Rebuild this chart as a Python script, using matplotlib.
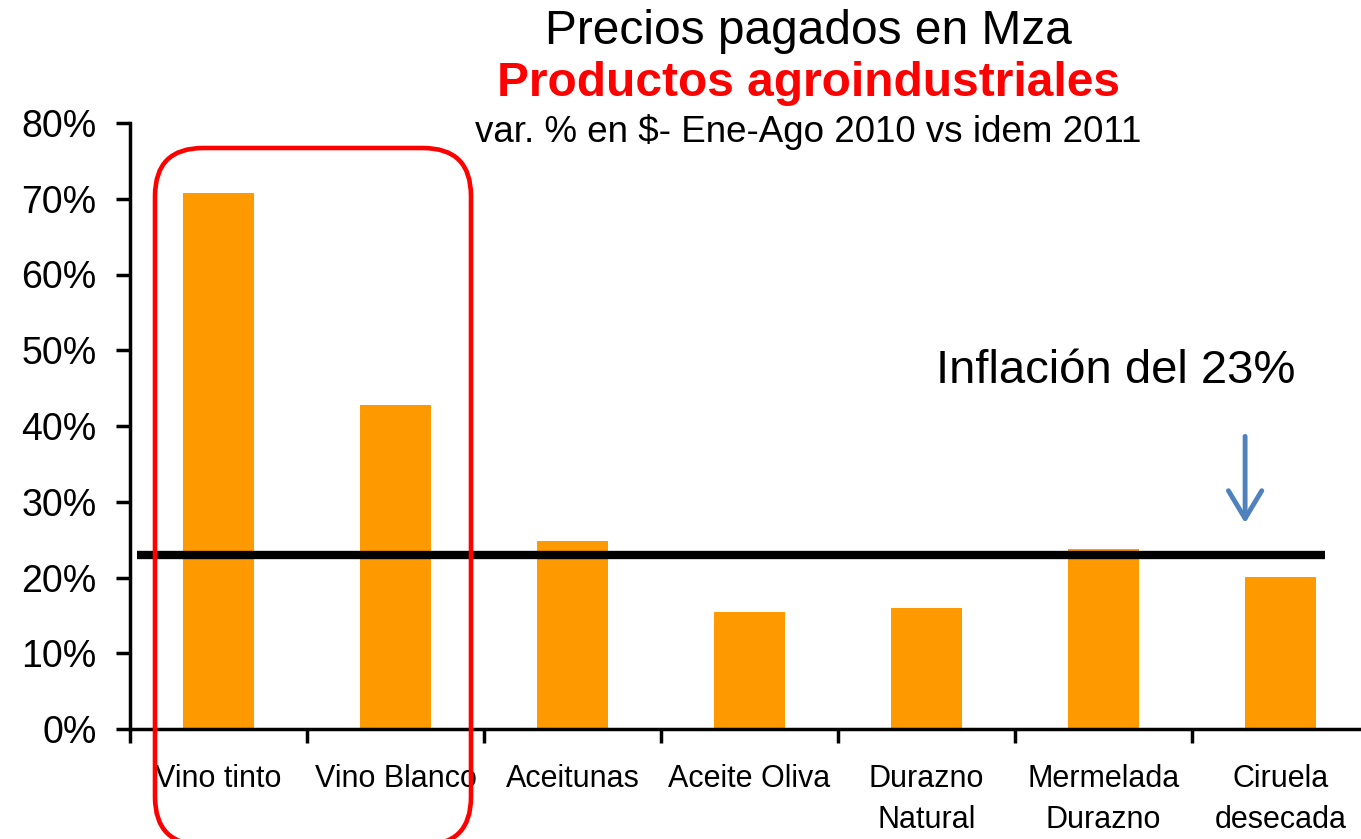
import numpy as np
import matplotlib
matplotlib.use('Agg')
import matplotlib.pyplot as plt
from matplotlib.patches import FancyBboxPatch

# data
categories = ['Vino tinto', 'Vino Blanco', 'Aceitunas', 'Aceite Oliva',
              'Durazno\nNatural', 'Mermelada\nDurazno', 'Ciruela\ndesecada']
values = [70.8, 42.8, 24.8, 15.4, 16.0, 23.8, 20.1]
inflacion = 23.0
y_ticks = [0, 10, 20, 30, 40, 50, 60, 70, 80]

plt.rcParams['font.family'] = ['Liberation Sans', 'DejaVu Sans']
narrow = ['Liberation Sans Narrow', 'Liberation Sans']

fig = plt.figure(figsize=(13.61, 8.39), dpi=100)
ax = fig.add_axes([130 / 1361, 110 / 839, 1239 / 1361, 606 / 839])

x = np.arange(len(categories))
ax.bar(x, values, width=0.4, color='#FF9900', zorder=2)

# inflation line
ax.plot([-0.46, 6.25], [inflacion, inflacion], color='black', lw=6,
        solid_capstyle='butt', zorder=3)

ax.set_xlim(-0.5, len(categories) - 0.5)
ax.set_ylim(0, 80)
ax.set_yticks(y_ticks)
ax.set_yticklabels([f'{v}%' for v in y_ticks], fontsize=27)
ax.set_xticks(x)
ax.set_xticklabels(categories, fontsize=22, family=narrow, linespacing=1.5)
ax.set_xticks(np.arange(len(categories) + 1) - 0.5, minor=True)
ax.tick_params(axis='x', which='major', length=0, pad=25)
ax.tick_params(axis='x', which='minor', length=10, width=2.5, direction='out')
ax.tick_params(axis='y', length=10, width=2.5, direction='out', pad=14)

for s in ['top', 'right']:
    ax.spines[s].set_visible(False)
for s in ['left', 'bottom']:
    ax.spines[s].set_linewidth(2.5)

# arrow pointing to the line
ax.annotate('', xy=(5.8, 26.8), xytext=(5.8, 39.0),
            arrowprops=dict(arrowstyle='->,head_length=0.5,head_width=0.3',
                            color='#4F81BD', lw=3.5, mutation_scale=40))

# titles
fig.text(0.594, 0.962, 'Precios pagados en Mza', ha='center', va='center',
         fontsize=34.5)
fig.text(0.594, 0.900, 'Productos agroindustriales', ha='center', va='center',
         fontsize=34.5, color='#FF0000', weight='bold')
fig.text(0.594, 0.843, 'var. % en $- Ene-Ago 2010 vs idem 2011', ha='center',
         va='center', fontsize=26.5, family=narrow)
fig.text(0.82, 0.558, 'Inflación del 23%', ha='center', va='center',
         fontsize=34)

# red rounded box around the wines (overlay in pixel units, y upward)
ov = fig.add_axes([0, 0, 1, 1], facecolor='none')
ov.set_xlim(0, 1361)
ov.set_ylim(0, 839)
ov.axis('off')
box = FancyBboxPatch((155, -6), 316, 697,
                     boxstyle='round,pad=0,rounding_size=48',
                     fill=False, edgecolor='#FF0000', lw=3.3, clip_on=False)
ov.add_patch(box)

fig.savefig('out.png', dpi=100)
